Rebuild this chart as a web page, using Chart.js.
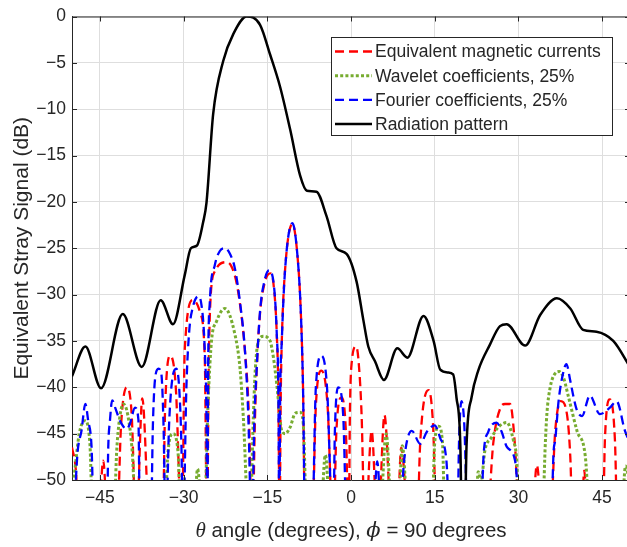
<!DOCTYPE html>
<html>
<head>
<meta charset="utf-8">
<script src="https://cdn.jsdelivr.net/npm/chart.js@4.4.0/dist/chart.umd.min.js"></script>
<style>
html, body { margin: 0; padding: 0; background: #fff; overflow: hidden; }
#wrap { width: 632px; height: 547px; }
</style>
</head>
<body>
<div id="wrap"><canvas id="stray" width="632" height="547"></canvas></div>
<script>
// axis ticks
const angleTicks = [-45, -30, -15, 0, 15, 30, 45];
const dbTicks = [0, -5, -10, -15, -20, -25, -30, -35, -40, -45, -50];

// [theta (deg), level (dB)] -- values under -50 dB are the nulls between lobes
const magneticCurrents = [
    [-50.0, -46.5], [-49.3, -49.0], [-48.7, -56],
    [-45.4, -56], [-44.4, -47.9], [-43.5, -56],
    [-42.0, -56], [-41.2, -44.0], [-40.2, -40.0], [-39.3, -43.0], [-38.5, -56],
    [-37.4, -41.2], [-36.0, -56],
    [-33.8, -56], [-33.3, -42.0], [-32.4, -36.6], [-31.4, -40.0], [-30.3, -56],
    [-29.8, -36.0], [-28.3, -30.6], [-27.0, -32.0], [-26.2, -37.0], [-25.8, -56],
    [-25.5, -37.9], [-25.2, -30.8], [-24.4, -27.5], [-22.2, -26.5], [-20.8, -28.0], [-19.9, -31.0], [-19.0, -36.1], [-18.3, -43.0], [-17.7, -56],
    [-17.2, -43.2], [-16.9, -38.0], [-16.3, -32.0], [-15.5, -28.8], [-14.5, -27.7], [-13.9, -28.8], [-13.3, -34.3], [-13.0, -41.5], [-12.8, -56],
    [-12.6, -41.5], [-12.4, -35.0], [-11.8, -27.2], [-10.5, -22.4], [-9.7, -25.1], [-9.0, -31.8], [-8.6, -40.0], [-8.2, -56],
    [-7.0, -56], [-6.3, -42.0], [-5.3, -38.2], [-4.2, -42.0], [-3.2, -56],
    [-2.6, -44.5], [-1.7, -41.1], [-0.9, -45.0], [-0.4, -56],
    [-0.2, -43.0], [0.1, -37.5], [0.9, -35.6], [1.3, -36.8], [1.9, -43.0], [2.5, -56],
    [3.7, -44.7], [4.8, -56],
    [6.0, -43.0], [7.4, -56],
    [8.2, -56], [9.0, -46.5], [10.5, -56],
    [11.8, -56], [12.4, -46.0], [13.9, -40.3], [14.7, -44.0], [15.4, -56],
    [24.2, -56], [25.5, -46.0], [26.8, -42.2], [27.6, -41.8], [28.5, -41.8], [29.4, -46.4], [30.3, -56],
    [32.3, -56], [33.3, -48.4], [34.5, -56],
    [35.6, -56], [36.6, -44.7], [37.6, -41.5], [38.7, -42.9], [39.3, -47.5], [39.8, -56],
    [41.2, -56], [41.8, -49.0], [42.5, -56],
    [45.1, -56], [45.5, -45.7], [46.4, -41.3], [47.3, -45.7], [47.8, -56],
    [50.0, -56]
];

const waveletCoeffs = [
    [-50.0, -52], [-49.5, -49.0], [-48.7, -45.0], [-47.7, -43.6], [-46.8, -46.0], [-46.2, -56],
    [-42.6, -56], [-42.0, -47.0], [-41.5, -43.5], [-40.8, -41.8], [-40.0, -43.0], [-39.2, -47.0], [-38.4, -56],
    [-33.6, -56], [-32.8, -47.0], [-31.9, -45.0], [-31.0, -47.0], [-30.4, -56],
    [-28.3, -56], [-27.5, -48.8], [-26.4, -56],
    [-25.6, -41.5], [-25.0, -35.0], [-24.1, -32.9], [-22.6, -31.5], [-20.8, -34.3], [-19.9, -37.9], [-19.3, -43.2], [-18.2, -56],
    [-17.5, -43.2], [-17.2, -38.6], [-16.6, -35.0], [-15.7, -34.5], [-14.5, -35.0], [-13.9, -36.8], [-13.3, -39.7],
    [-12.4, -44.7], [-11.8, -45.0], [-10.9, -44.3], [-10.0, -42.8], [-9.1, -42.7], [-8.6, -43.6], [-7.8, -56],
    [-5.6, -56], [-4.6, -47.3], [-3.5, -56],
    [5.0, -56], [6.3, -45.0], [7.5, -56],
    [8.3, -56], [9.2, -46.3], [10.4, -56],
    [14.4, -56], [15.0, -46.0], [15.7, -44.2], [16.4, -46.0], [16.9, -56],
    [22.2, -56], [22.8, -49.1], [23.3, -50.2], [24.0, -46.8], [25.2, -45.4], [26.4, -44.3], [27.9, -43.8], [29.1, -45.7], [29.7, -47.9], [30.3, -56],
    [34.2, -56], [34.8, -46.4], [35.1, -42.9], [35.7, -40.0], [36.6, -38.5], [37.3, -38.3], [38.1, -39.0], [39.0, -41.1], [40.5, -44.7], [42.0, -47.5], [43.0, -56],
    [48.3, -56], [49.2, -48.5], [50.0, -50.5]
];

const fourierCoeffs = [
    [-50.0, -56], [-49.5, -52.0], [-49.0, -47.0], [-48.3, -44.7], [-47.6, -41.8], [-47.1, -43.6], [-46.5, -46.4], [-46.0, -56],
    [-43.8, -56], [-43.5, -46.4], [-43.2, -43.6], [-42.8, -41.4], [-42.2, -42.3], [-41.4, -43.6], [-40.2, -44.5], [-39.6, -43.9], [-38.7, -42.2], [-38.1, -43.5], [-37.8, -56],
    [-35.9, -56], [-35.5, -44.0], [-35.1, -39.0], [-34.5, -38.0], [-34.0, -38.5], [-33.6, -44.0], [-33.2, -56],
    [-32.6, -44.0], [-32.0, -39.0], [-31.3, -38.0], [-30.8, -40.0], [-30.4, -46.0], [-30.1, -56],
    [-29.5, -40.0], [-29.0, -34.0], [-28.4, -31.5], [-27.4, -30.2], [-26.8, -31.1], [-26.2, -36.1], [-25.9, -43.2], [-25.75, -56],
    [-25.6, -37.9], [-25.3, -30.8], [-24.4, -26.8], [-23.5, -25.3], [-22.6, -25.0], [-21.7, -25.6], [-20.8, -27.2], [-19.9, -30.8], [-19.0, -36.1], [-18.4, -43.2], [-17.8, -56],
    [-17.3, -43.2], [-16.9, -38.0], [-16.3, -31.8], [-15.5, -28.5], [-14.7, -27.4], [-13.9, -28.6], [-13.3, -34.3], [-13.0, -41.5], [-12.85, -56],
    [-12.7, -41.5], [-12.4, -35.0], [-11.8, -27.2], [-10.5, -22.3], [-9.7, -25.1], [-9.0, -31.8], [-8.6, -40.0], [-8.2, -56],
    [-7.0, -56], [-6.3, -40.0], [-5.3, -36.6], [-4.3, -40.0], [-3.2, -56],
    [-2.9, -45.0], [-2.3, -40.0], [-1.4, -43.0], [-0.7, -56],
    [3.8, -56], [4.7, -48.0], [5.6, -56],
    [8.6, -56], [9.5, -48.0], [10.9, -44.7], [12.4, -46.1], [13.6, -44.8], [15.0, -44.1], [16.0, -45.5], [17.1, -47.9], [17.8, -56],
    [19.0, -56], [19.4, -45.0], [19.8, -41.5], [20.3, -44.0], [21.0, -56],
    [23.1, -56], [23.8, -47.0], [24.6, -44.8], [26.1, -43.8], [27.0, -44.8], [27.9, -46.4], [29.4, -47.9], [30.6, -56],
    [35.8, -56], [36.3, -47.0], [36.6, -45.7], [37.2, -41.5], [38.0, -38.5], [38.6, -37.5], [39.3, -39.3], [39.9, -41.1],
    [40.5, -42.5], [41.4, -43.1], [42.8, -40.9], [44.6, -42.9], [46.4, -42.2], [47.6, -41.5], [49.1, -44.7], [50.0, -46.0]
];

const radiationPattern = [
    [-50.0, -38.8], [-47.6, -35.6], [-44.8, -40.1], [-40.9, -32.1], [-37.5, -37.8], [-34.1, -30.6], [-31.9, -33.2],
    [-29.8, -27.9], [-28.7, -25.0], [-27.6, -24.7], [-26.5, -22.2], [-25.9, -20.1], [-24.7, -10.5], [-22.9, -4.8],
    [-21.1, -1.9], [-18.7, 0.0], [-16.3, -0.9], [-14.5, -4.1], [-12.7, -7.6], [-10.9, -12.2], [-9.1, -17.2],
    [-7.9, -18.8], [-6.2, -18.9], [-4.4, -21.5], [-2.6, -25.0], [-0.8, -25.6], [1.0, -28.6], [2.2, -32.7],
    [3.1, -35.6], [4.3, -37.2], [5.9, -39.2], [8.3, -35.8], [10.1, -36.8], [13.0, -32.3], [14.8, -35.0],
    [16.0, -38.1], [17.4, -38.4], [18.3, -38.6], [18.9, -41.1], [19.6, -46.4], [20.1, -65], [20.7, -46.4],
    [21.6, -41.1], [22.8, -38.2], [24.9, -35.4], [26.7, -33.4], [27.9, -33.2], [31.2, -35.5], [33.9, -32.2],
    [36.9, -30.4], [39.3, -31.5], [41.6, -33.8], [44.0, -34.0], [47.0, -35.0], [50.0, -37.8]
];

const FONT = '"Liberation Sans", Arial, sans-serif';
const INK = '#262626';

function toPoints(pairs) {
    return pairs.map(p => ({ x: p[0], y: p[1] }));
}

function minusSign(v) {
    return String(v).replace('-', '\u2212');
}

// box, inner tick marks, axis titles and legend, MATLAB style
const framePlugin = {
    id: 'frame',
    afterDraw(chart) {
        const ctx = chart.ctx;
        const a = chart.chartArea;
        const xs = chart.scales.x;
        const ys = chart.scales.y;

        ctx.save();
        ctx.strokeStyle = INK;
        ctx.lineWidth = 1;
        ctx.beginPath();
        ctx.moveTo(a.left, a.top + 0.5);
        ctx.lineTo(a.right, a.top + 0.5);
        ctx.moveTo(a.right - 0.5, a.top);
        ctx.lineTo(a.right - 0.5, a.bottom);
        const tl = 5;
        angleTicks.forEach(v => {
            const px = Math.round(xs.getPixelForValue(v)) + 0.5;
            ctx.moveTo(px, a.bottom);
            ctx.lineTo(px, a.bottom - tl);
            ctx.moveTo(px, a.top);
            ctx.lineTo(px, a.top + tl);
        });
        dbTicks.forEach(v => {
            const py = Math.round(ys.getPixelForValue(v)) + 0.5;
            ctx.moveTo(a.left, py);
            ctx.lineTo(a.left + tl, py);
            ctx.moveTo(a.right, py);
            ctx.lineTo(a.right - tl, py);
        });
        ctx.stroke();

        // y title
        ctx.fillStyle = INK;
        ctx.font = '21px ' + FONT;
        ctx.textAlign = 'center';
        ctx.textBaseline = 'middle';
        ctx.translate(22, (a.top + a.bottom) / 2);
        ctx.rotate(-Math.PI / 2);
        ctx.fillText('Equivalent Stray Signal (dB)', 0, 0);
        ctx.restore();

        // x title with italic greek symbols
        const parts = [
            { t: '\u03b8', f: 'italic 21px "Liberation Serif", serif' },
            { t: ' angle (degrees), ', f: '20.5px ' + FONT },
            { t: '\u03d5', f: 'italic 21px "DejaVu Serif", serif' },
            { t: ' = 90 degrees', f: '20.5px ' + FONT }
        ];
        ctx.save();
        ctx.fillStyle = INK;
        ctx.textBaseline = 'alphabetic';
        let total = 0;
        parts.forEach(p => { ctx.font = p.f; p.w = ctx.measureText(p.t).width; total += p.w; });
        let x = (a.left + a.right) / 2 - total / 2;
        parts.forEach(p => {
            ctx.font = p.f;
            ctx.textAlign = 'left';
            ctx.fillText(p.t, x, 537);
            x += p.w;
        });
        ctx.restore();

        // legend
        const box = { x: 331.5, y: 37.5, w: 281, h: 98 };
        ctx.save();
        ctx.fillStyle = '#fff';
        ctx.fillRect(box.x, box.y, box.w, box.h);
        ctx.strokeStyle = INK;
        ctx.lineWidth = 1;
        ctx.strokeRect(box.x, box.y, box.w, box.h);
        ctx.font = '17.5px ' + FONT;
        ctx.textAlign = 'left';
        ctx.textBaseline = 'middle';
        chart.data.datasets.forEach((ds, i) => {
            const y = 51.5 + i * 24.2;
            ctx.strokeStyle = ds.borderColor;
            ctx.lineWidth = ds.borderWidth;
            ctx.setLineDash(ds.borderDash || []);
            ctx.beginPath();
            ctx.moveTo(335, y);
            ctx.lineTo(372, y);
            ctx.stroke();
            ctx.setLineDash([]);
            ctx.fillStyle = INK;
            ctx.fillText(ds.label, 375, y + 1);
        });
        ctx.restore();
    }
};

const config = {
    type: 'line',
    data: {
        datasets: [{
            label: 'Equivalent magnetic currents',
            data: toPoints(magneticCurrents),
            borderColor: 'rgb(255, 0, 0)',
            borderWidth: 2.3,
            borderDash: [9, 5],
            order: 4
        }, {
            label: 'Wavelet coefficients, 25%',
            data: toPoints(waveletCoeffs),
            borderColor: 'rgb(119, 172, 48)',
            borderWidth: 3,
            borderDash: [3, 2.2],
            order: 3
        }, {
            label: 'Fourier coefficients, 25%',
            data: toPoints(fourierCoeffs),
            borderColor: 'rgb(0, 0, 255)',
            borderWidth: 2.3,
            borderDash: [9, 5],
            order: 2
        }, {
            label: 'Radiation pattern',
            data: toPoints(radiationPattern),
            borderColor: 'rgb(0, 0, 0)',
            borderWidth: 2.5,
            order: 1
        }]
    },
    options: {
        responsive: false,
        animation: false,
        devicePixelRatio: 1,
        layout: { padding: { left: 0, right: 2, top: 12, bottom: 0 } },
        elements: {
            point: { radius: 0 },
            line: { cubicInterpolationMode: 'monotone', fill: false, borderCapStyle: 'butt' }
        },
        plugins: {
            legend: { display: false },
            tooltip: { enabled: false }
        },
        scales: {
            x: {
                type: 'linear',
                min: -50,
                max: 50,
                afterBuildTicks: s => { s.ticks = angleTicks.map(v => ({ value: v })); },
                afterFit: s => { s.height = 67; },
                grid: { color: '#dedede', drawTicks: false },
                border: { color: INK, width: 1 },
                ticks: {
                    color: INK,
                    padding: 8,
                    maxRotation: 0,
                    font: { family: FONT, size: 17.5 },
                    callback: v => minusSign(v)
                }
            },
            y: {
                type: 'linear',
                min: -50,
                max: 0,
                afterBuildTicks: s => { s.ticks = dbTicks.map(v => ({ value: v })); },
                afterFit: s => { s.width = 72; },
                grid: { color: '#dedede', drawTicks: false },
                border: { color: INK, width: 1 },
                ticks: {
                    color: INK,
                    padding: 6,
                    font: { family: FONT, size: 17.5 },
                    callback: v => minusSign(v)
                }
            }
        }
    },
    plugins: [framePlugin]
};

new Chart(document.getElementById('stray').getContext('2d'), config);
</script>
</body>
</html>
